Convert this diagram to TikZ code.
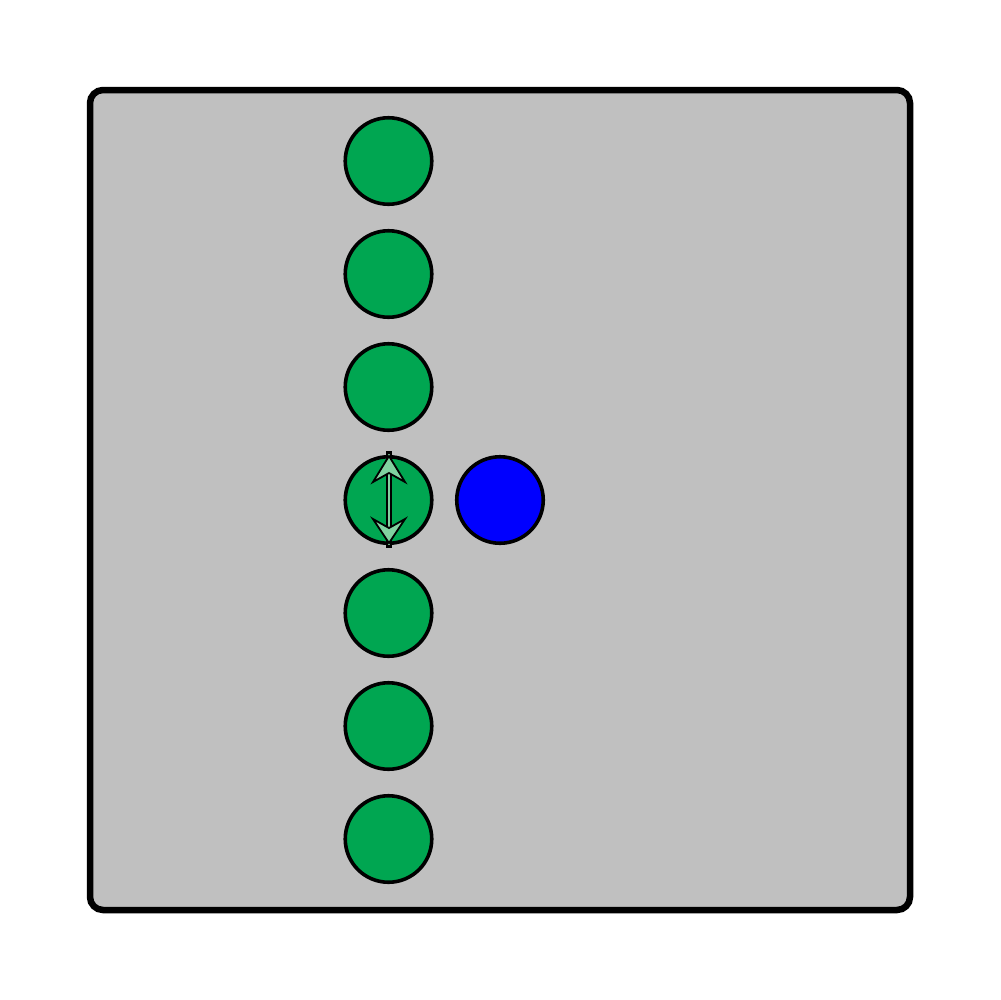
\documentclass[tikz,border=0pt]{standalone}
\begin{document}
\begin{tikzpicture}[x=0.1mm,y=-0.1mm,
  ball/.style={circle,draw=black,line width=0.36mm,minimum size=8.65mm,inner sep=0pt,fill=ballgreen},
  headstyle/.style={draw=black,fill=arrowgreen,line width=0.18mm,line join=miter}]
\definecolor{ballgreen}{RGB}{0,166,81}
\definecolor{arrowgreen}{RGB}{128,210,160}
\definecolor{panelgray}{RGB}{192,192,192}
\definecolor{ballblue}{RGB}{0,0,255}
\useasboundingbox (0,0) rectangle (1000,1000);
\draw[line width=0.65mm,fill=panelgray,rounded corners=1.3mm] (90,90) rectangle (910,910);
\foreach \i/\y in {1/161,2/274,3/387,4/500,5/613,6/726,7/839}
  \node[ball] (g\i) at (388.5,\y) {};
\node[ball,fill=ballblue] (b) at (500,500) {};
% arrow
\coordinate (atop) at (389,451);
\coordinate (abot) at (389,548);
\draw[line width=0.6mm,black] (atop) -- (abot);
\draw[line width=0.25mm,arrowgreen] ([yshift=-0.3mm]atop) -- ([yshift=0.3mm]abot);
\draw[headstyle] (389,456) -- (405,482) -- (389,473) -- (373,482) -- cycle;
\draw[headstyle] (389,543) -- (405,519) -- (389,528) -- (373,519) -- cycle;
\end{tikzpicture}
\end{document}
